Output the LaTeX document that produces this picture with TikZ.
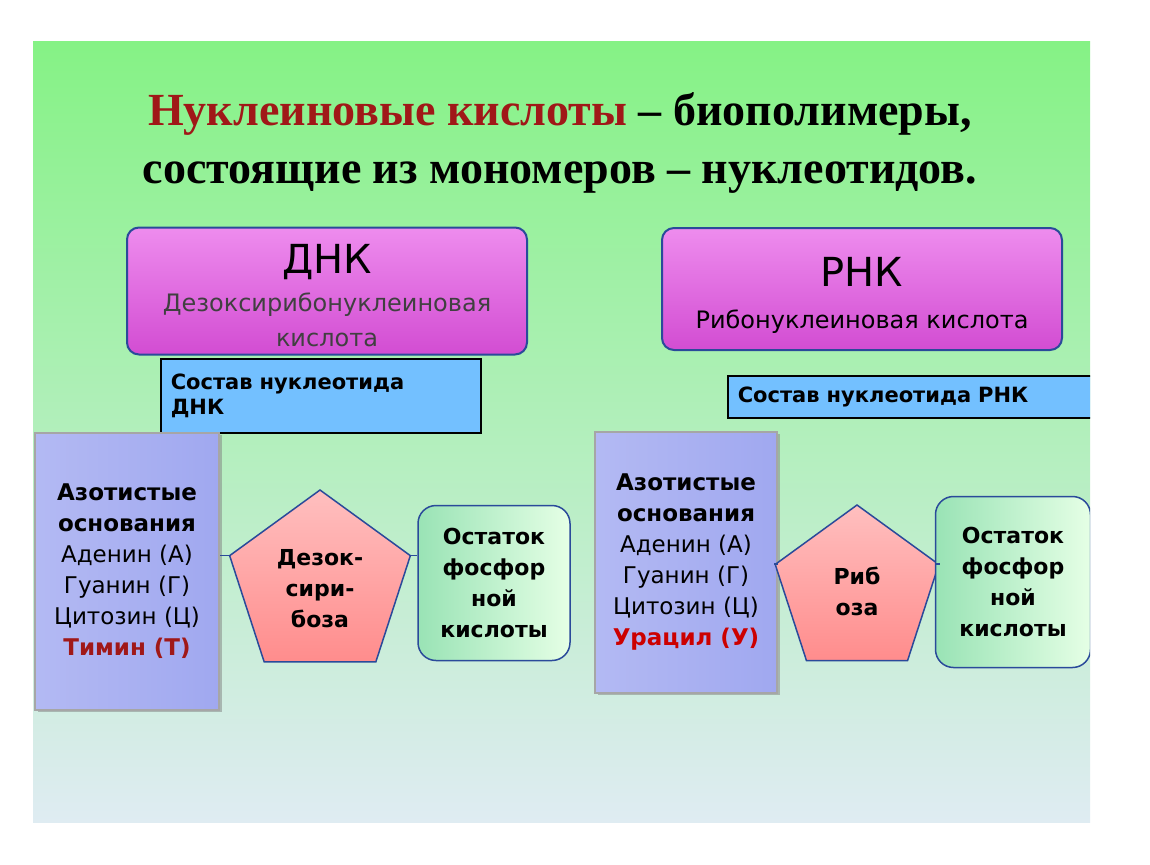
\documentclass[tikz,border=0pt]{standalone}
\usepackage{fontspec}
\setmainfont{DejaVu Sans}
\newfontfamily\titlefont{Liberation Serif}
\usetikzlibrary{shapes.geometric, shadows}
\definecolor{darkred}{HTML}{A01818}
\definecolor{mybord}{HTML}{2A4A9A}
\definecolor{colfill}{HTML}{A0A8F0}
\tikzset{
  acid/.style={
    rectangle, rounded corners=12pt, draw=mybord, line width=2pt,
    top color=violet!30!magenta!45, bottom color=violet!50!magenta!70,
    minimum width=400pt, align=center
  },
  comp/.style={
    rectangle, draw=black, line width=1.5pt, fill=blue!45!cyan!55,
    font=\bfseries\fontsize{21}{25}\selectfont, align=left, anchor=north west
  },
  column/.style={
    rectangle, draw=gray!70, line width=2pt, left color=colfill!80, right color=colfill,
    drop shadow, font=\fontsize{23}{31}\selectfont, align=center
  },
  sugar/.style={
    regular polygon, regular polygon sides=5, draw=mybord, line width=1.5pt,
    top color=red!25, bottom color=red!45, inner sep=0pt,
    font=\bfseries\fontsize{22}{31}\selectfont, align=center
  },
  phos/.style={
    rectangle, rounded corners=18pt, draw=mybord, line width=1.5pt,
    left color=green!45!teal!40, right color=green!10,
    font=\bfseries\fontsize{22}{31}\selectfont, align=center
  },
  link/.style={draw=mybord, line width=1.5pt}
}
\def\hd#1{\textbf{#1}}
\begin{document}
\begin{tikzpicture}[x=1pt, y=-1pt]
    \useasboundingbox (0,0) rectangle (1150,864);
    \fill[white] (0,0) rectangle (1150,864);
    \begin{scope}
      \clip (33,42) rectangle (1090,822);
      \shade[top color=green!45!white!95!black, bottom color=blue!8!white!95!green] (33,42) rectangle (1090,822);
      % title
      \node[font=\titlefont\bfseries\fontsize{46}{58}\selectfont, align=center] (title) at (560,143)
        {{\color{darkred}Нуклеиновые кислоты} – биополимеры,\\состоящие из мономеров – нуклеотидов.};
      % acids
      \node[acid, minimum height=127pt] (dna) at (327,291) {};
      \node[font=\fontsize{40}{40}\selectfont] (dnah) at (327,262) {ДНК};
      \node[font=\fontsize{24}{35}\selectfont, text=black!75, align=center] (dnat) at (327,320) {Дезоксирибонуклеиновая\\кислота};
      \node[acid, minimum height=122pt] (rna) at (862,289) {};
      \node[font=\fontsize{40}{40}\selectfont] (rnah) at (862,272) {РНК};
      \node[font=\fontsize{24}{24}\selectfont] (rnat) at (862,322) {Рибонуклеиновая кислота};
      % composition
      \node[comp, text width=300pt, minimum height=74pt, inner xsep=10pt] (cdna) at (160,358) {Состав нуклеотида\\ДНК};
      \node[comp, text width=360pt, minimum height=42pt, inner xsep=10pt] (crna) at (727,375) {Состав нуклеотида РНК};
      % DNA nucleotide
      \node[column, minimum width=184pt, minimum height=277pt] (baseL) at (127,571)
        {\hd{Азотистые}\\\hd{основания}\\Аденин (А)\\Гуанин (Г)\\Цитозин (Ц)\\\textcolor{darkred}{\hd{Тимин (Т)}}};
      \node[sugar, minimum size=190pt] (sugL) at (320,585) {\\[-8pt]Дезок-\\сири-\\боза};
      \node[phos, minimum width=152pt, minimum height=155pt] (phL) at (494,583) {Остаток\\фосфор\\ной\\кислоты};
      \draw[link] (baseL.east |- sugL.corner 2) -- (sugL.corner 2);
      \draw[link] (sugL.corner 5) -- (phL.west |- sugL.corner 5);
      % RNA nucleotide
      \node[column, minimum width=182pt, minimum height=261pt] (baseR) at (686,562)
        {\hd{Азотистые}\\\hd{основания}\\Аденин (А)\\Гуанин (Г)\\Цитозин (Ц)\\\textcolor{red!80!black}{\hd{Урацил (У)}}};
      \node[sugar, minimum size=172pt] (sugR) at (857,591) {Риб\\оза};
      \node[phos, minimum width=155pt, minimum height=171pt] (phR) at (1013,582) {Остаток\\фосфор\\ной\\кислоты};
      \draw[link] (baseR.east |- sugR.corner 2) -- (sugR.corner 2);
      \draw[link] (sugR.corner 5) -- (phR.west |- sugR.corner 5);
    \end{scope}
\end{tikzpicture}
\end{document}
